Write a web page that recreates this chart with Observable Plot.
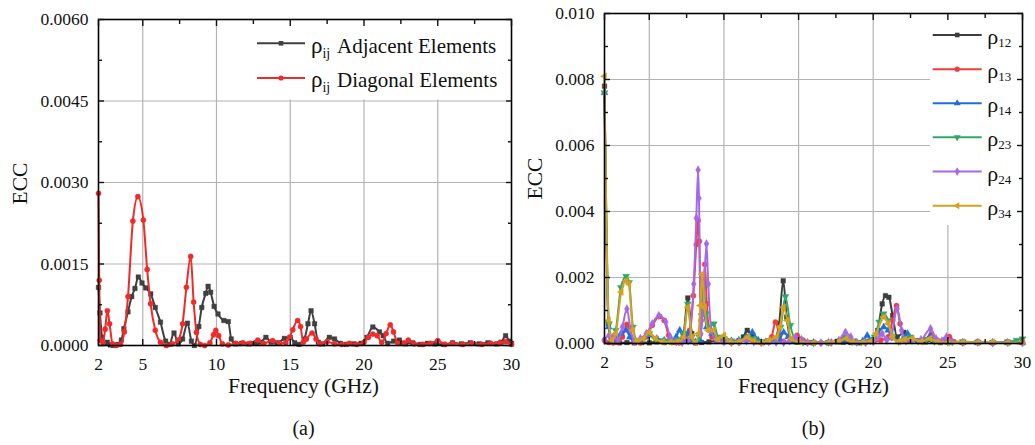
<!DOCTYPE html>
<html><head><meta charset="utf-8">
<script src="https://cdn.jsdelivr.net/npm/d3@7"></script>
<script src="https://cdn.jsdelivr.net/npm/@observablehq/plot@0.6"></script>
<style>
body{margin:0;background:#fff;}
#wrap{position:relative;width:1035px;height:445px;overflow:hidden;background:#fff;}
#pa,#pb{position:absolute;top:0;}
#pa{left:0;} #pb{left:517px;}
svg{background:transparent !important;}
svg text, svg tspan{font-family:'Liberation Serif','Times New Roman',serif !important;}
</style></head>
<body><div id="wrap"><div id="pa"></div><div id="pb"></div></div>
<script>
// ---------- Panel (a) data ----------
const freqAdj = [2.0,2.1,2.25,2.45,2.6,2.8,3.0,3.3,3.55,3.72,4.0,4.25,4.47,4.7,4.95,5.2,5.54,5.85,6.2,6.55,6.8,7.12,7.4,7.7,8.03,8.3,8.5,8.8,9.0,9.27,9.43,9.6,9.84,10.1,10.5,10.8,11.0,11.3,11.7,12.2,12.7,13.0,13.35,13.7,14.1,14.6,15.0,15.3,15.6,15.96,16.2,16.41,16.65,16.9,17.2,17.65,18.0,18.4,18.8,19.3,19.8,20.2,20.6,21.05,21.3,21.6,22.0,22.4,22.8,23.3,23.8,24.3,24.8,25.4,26.0,26.6,27.2,27.8,28.4,29.0,29.3,29.6,29.85,30.0];
const eccAdj = [0.00107,0.0006,0.00015,0.00004,0.00006,0.00001,0.0,0.00002,0.0001,0.00031,0.00062,0.0009,0.00105,0.00126,0.00115,0.00106,0.00095,0.0007,0.00043,0.00008,0.00002,0.00023,0.00003,0.00012,0.00041,0.00008,0.0,0.00035,0.0007,0.00096,0.00109,0.00098,0.00072,0.00058,0.00046,0.00044,0.00012,0.00003,0.00004,0.00003,0.00005,0.00006,0.00015,0.00006,0.00005,0.00013,0.00015,0.00005,0.00002,0.00012,0.0004,0.00064,0.0004,0.00006,0.00003,0.00015,0.00012,0.00004,0.00002,0.00003,0.00004,0.00015,0.00034,0.00025,0.00018,0.00004,0.00008,0.0001,0.00003,0.00005,0.00002,0.00004,0.00003,0.00002,0.00005,0.00003,0.00005,0.00003,0.00005,0.00003,0.00006,0.00018,0.00008,0.00004];
const freqDiag = [2.0,2.05,2.12,2.3,2.45,2.6,2.75,2.95,3.2,3.5,3.75,4.0,4.33,4.67,5.04,5.3,5.53,5.85,6.2,6.6,7.0,7.4,7.7,7.96,8.25,8.45,8.64,8.9,9.2,9.55,9.8,9.95,10.15,10.4,10.8,11.3,11.8,12.3,12.8,13.2,13.8,14.3,14.7,14.95,15.17,15.5,15.7,15.88,16.1,16.48,16.75,17.0,17.5,18.0,18.5,19.0,19.5,20.0,20.3,20.6,20.9,21.2,21.5,21.78,22.0,22.3,22.7,23.0,23.4,24.0,24.5,25.0,25.5,26.0,26.7,27.3,28.0,28.6,29.2,29.6,30.0];
const eccDiag = [0.0028,0.0012,0.0001,0.00005,0.0003,0.00064,0.0004,0.00003,0.0,0.00002,0.00025,0.0009,0.00229,0.00274,0.00231,0.0014,0.00077,0.00028,0.00006,0.0,0.00003,0.0001,0.0004,0.00107,0.00164,0.0008,0.00024,0.00002,0.0,0.00005,0.0002,0.00028,0.00018,0.00003,0.00001,0.00004,0.00005,0.00004,0.0001,0.00004,0.00009,0.00004,0.00005,0.00015,0.00029,0.00046,0.00035,0.00006,0.00012,0.00023,0.00012,0.00003,0.00007,0.00003,0.00002,0.00004,0.00002,0.00006,0.00015,0.00021,0.00018,0.00006,0.00022,0.00038,0.00025,0.00004,0.00005,0.0001,0.00003,0.00002,0.00004,0.00009,0.00002,0.00004,0.00002,0.00004,0.00002,0.00004,0.00005,0.00007,0.00002];

// ---------- Panel (b) data ----------
const f12 = [2.0,2.27,2.45,2.7,3.0,3.5,4.0,4.5,5.0,5.5,6.0,6.5,7.0,7.3,7.58,7.85,8.1,8.5,9.0,9.5,10.0,10.5,11.0,11.3,11.56,11.85,12.2,12.6,13.0,13.4,13.7,13.97,14.2,14.5,14.9,15.5,16.0,17.0,18.0,18.5,19.0,19.5,20.0,20.3,20.6,20.82,21.05,21.3,21.6,22.05,22.4,23.0,23.5,24.0,24.5,25.0,26.0,27.0,28.0,29.0,30.0];
const e12 = [0.0078,0.0006,0.0001,0.00004,0.00002,0.00003,0.00002,0.00003,0.00002,0.00005,0.00003,0.00004,0.00005,0.0003,0.00138,0.0003,0.00002,0.00003,0.00005,0.00008,0.00006,0.00004,0.00008,0.0002,0.0004,0.00025,0.00005,0.00003,0.00005,0.00012,0.0006,0.0019,0.0008,0.0001,0.00004,0.00003,0.00002,0.00002,0.00004,0.00003,0.00002,0.00005,0.0001,0.0004,0.0012,0.00145,0.0014,0.00085,0.0002,0.00034,0.0001,0.00008,0.00005,0.00008,0.00003,0.00005,0.00003,0.00004,0.00003,0.00004,0.00003];
const f13 = [2.0,2.3,2.6,2.9,3.2,3.5,3.75,4.0,4.4,4.8,5.2,5.7,6.0,6.3,6.7,7.0,7.4,7.7,7.95,8.15,8.27,8.35,8.47,8.6,8.72,8.85,9.0,9.2,9.6,10.0,10.5,11.0,11.5,12.0,12.5,13.0,13.2,13.45,13.7,14.0,14.5,14.9,15.3,15.8,16.5,17.0,17.5,18.0,18.4,18.8,19.5,20.0,20.5,21.0,21.3,21.56,21.8,22.1,22.5,23.0,23.5,23.9,24.3,24.8,25.1,25.4,26.0,27.0,28.0,29.0,30.0];
const e13 = [0.0001,0.00003,0.00002,0.00005,0.0002,0.00058,0.0002,0.00003,0.00002,0.0002,0.00055,0.00082,0.0007,0.00025,0.00004,0.00002,0.00008,0.0004,0.00145,0.003,0.00373,0.0031,0.0007,0.0012,0.0024,0.0012,0.0004,0.0002,0.00008,0.00005,0.00003,0.00005,0.0001,0.00008,0.00003,0.00008,0.0002,0.00065,0.0003,0.00005,0.00008,0.00025,0.0001,0.00003,0.00002,0.00003,0.00005,0.00015,0.00012,0.00003,0.00005,0.00005,0.0001,0.0002,0.0007,0.00115,0.0006,0.0001,0.00012,0.00008,0.00012,0.0003,0.0001,0.00012,0.00021,0.00006,0.00003,0.00004,0.00002,0.00004,0.00003];
const f14 = [2.0,2.27,2.5,2.8,3.1,3.45,3.7,4.0,4.5,5.0,5.5,6.0,6.5,6.8,7.04,7.3,7.58,7.85,8.1,8.4,8.6,8.85,9.2,9.6,10.0,10.5,11.0,11.5,11.9,12.3,12.8,13.3,13.7,14.0,14.3,14.7,15.2,16.0,17.0,17.8,18.3,18.8,19.3,19.6,19.9,20.3,20.7,21.0,21.3,21.7,22.3,22.7,23.2,23.8,24.2,25.0,26.0,27.0,28.0,29.0,30.0];
const e14 = [0.0076,0.0005,0.0001,0.00015,0.0003,0.0004,0.0002,0.00008,0.0001,0.00025,0.00015,0.0001,0.00008,0.0002,0.0004,0.00012,0.0003,0.00008,0.00005,0.0001,0.001,0.0005,0.0003,0.0001,0.0002,0.00008,0.0001,0.0002,0.00034,0.0001,0.00005,0.00008,0.0001,0.00034,0.0002,0.00006,0.00005,0.00003,0.00003,0.00005,0.0001,0.00004,0.00008,0.00024,0.00008,0.0003,0.0005,0.0004,0.0002,0.00005,0.0003,0.0001,0.00005,0.00022,0.00005,0.00004,0.00003,0.00002,0.00003,0.00002,0.00003];
const f23 = [2.0,2.3,2.5,2.75,3.1,3.45,3.65,3.9,4.2,4.6,5.0,5.4,5.9,6.4,6.9,7.3,7.58,7.85,8.1,8.35,8.5,8.62,8.8,9.0,9.32,9.6,10.0,10.5,11.0,11.6,12.0,12.5,13.0,13.5,13.8,14.12,14.45,14.8,15.3,16.0,17.0,17.7,18.2,18.6,19.2,19.8,20.1,20.4,20.7,21.0,21.3,21.7,22.1,22.5,23.0,23.6,24.1,25.0,26.0,27.0,28.0,29.0,29.6,30.0];
const e23 = [0.0076,0.0006,0.0002,0.0004,0.0017,0.00204,0.00185,0.0005,0.0001,0.00015,0.0003,0.00015,0.00008,0.0001,0.00012,0.0003,0.0012,0.0002,0.00005,0.0002,0.00085,0.0017,0.0009,0.0005,0.0006,0.0002,0.00015,0.00008,0.00005,0.0002,0.00015,0.00005,0.00008,0.00015,0.0005,0.00142,0.00055,0.0001,0.00004,0.00002,0.00003,0.00008,0.0002,0.00006,0.00004,0.00008,0.0002,0.00065,0.0009,0.0007,0.0002,0.00006,0.00015,0.0002,0.00008,0.00012,0.00006,0.00004,0.00006,0.00004,0.00003,0.00005,0.0001,0.00014];
const f24 = [2.0,2.3,2.6,2.9,3.2,3.5,3.75,4.0,4.4,4.8,5.2,5.64,6.1,6.4,6.8,7.2,7.6,7.98,8.15,8.27,8.33,8.45,8.62,8.83,8.95,9.15,9.5,10.0,10.5,11.0,11.5,12.0,12.5,13.0,13.5,14.0,14.4,14.8,15.2,15.6,16.5,17.2,17.7,18.14,18.5,18.9,19.5,20.0,20.35,20.6,20.9,21.2,21.6,21.9,22.2,22.6,23.2,23.84,24.2,24.6,24.9,25.3,26.0,27.0,28.0,29.0,30.0];
const e24 = [0.0001,0.00025,0.0002,0.0001,0.0005,0.00105,0.0004,0.00008,0.00015,0.0003,0.0006,0.00085,0.00065,0.0002,0.00005,0.00003,0.00008,0.0018,0.0038,0.00526,0.0044,0.0003,0.0012,0.00302,0.0018,0.0004,0.0001,0.00005,0.00003,0.00005,0.00008,0.00005,0.00003,0.00005,0.00004,0.00003,0.00008,0.00019,0.00012,0.00003,0.00002,0.00003,0.0001,0.00034,0.0002,0.00004,0.00003,0.00005,0.0002,0.0003,0.0001,0.0002,0.00105,0.0004,0.00008,0.0001,0.00012,0.00045,0.00015,0.00008,0.0002,0.00005,0.00003,0.00004,0.00002,0.00003,0.00002];
const f34 = [2.0,2.27,2.5,2.75,3.12,3.45,3.63,3.9,4.2,4.6,5.0,5.4,5.9,6.4,6.9,7.3,7.58,7.85,8.1,8.3,8.42,8.54,8.7,8.95,9.3,9.6,10.0,10.4,11.0,11.6,12.0,12.5,13.0,13.5,13.75,14.0,14.25,14.5,15.0,16.0,17.0,17.7,18.2,18.6,19.3,19.9,20.2,20.7,21.0,21.3,21.7,22.1,22.6,23.2,23.8,24.3,25.0,26.0,27.0,28.0,29.0,30.0];
const e34 = [0.0081,0.0007,0.0001,0.0003,0.00156,0.0019,0.0018,0.0004,0.00008,0.00015,0.00034,0.00015,0.00005,0.00004,0.00005,0.0002,0.0011,0.0002,0.00003,0.0003,0.00115,0.0021,0.0011,0.0004,0.0004,0.00012,0.00024,0.00005,0.00005,0.0002,0.00008,0.00003,0.0001,0.0002,0.0005,0.0011,0.0007,0.00015,0.00005,0.00002,0.00003,0.00006,0.00015,0.00005,0.00004,0.00008,0.0003,0.0008,0.0006,0.0002,0.00005,0.00012,0.00015,0.00005,0.00015,0.00005,0.00003,0.00004,0.00003,0.00004,0.00002,0.00004];

// ---------- ticks ----------
const xMajor = [2,5,10,15,20,25,30];
const xMinor = [7.5,12.5,17.5,22.5,27.5];
const xGrid = [5,10,15,20,25];
const yMajorA = [0,0.0015,0.003,0.0045,0.006];
const yMinorA = [0.00075,0.00225,0.00375,0.00525];
const yGridA = [0.0015,0.003,0.0045];
const yMajorB = [0,0.002,0.004,0.006,0.008,0.01];
const yMinorB = [0.001,0.003,0.005,0.007,0.009];
const yGridB = [0.002,0.004,0.006,0.008];

const FONT = "'Liberation Serif','Times New Roman',serif";

function panel(cfg) {
  const marks = [
    Plot.gridX(xGrid, {stroke:"#b3b3b3", strokeOpacity:1, strokeWidth:1.2}),
    Plot.gridY(cfg.yGrid, {stroke:"#b3b3b3", strokeOpacity:1, strokeWidth:1.2})
  ];
  cfg.series.forEach(s => {
    const rows = s.f.map((f,i) => ({f, v: s.v[i]}));
    marks.push(Plot.line(rows, {x:"f", y:"v", curve:"monotone-x", stroke:s.color, strokeWidth:2}));
    marks.push(Plot.dot(rows, {x:"f", y:"v", symbol:s.symbol, r:2.6, fill:s.color, stroke:s.color, strokeWidth:0.4, rotate:s.rotate||0}));
  });
  marks.push(Plot.frame({stroke:"#000", strokeWidth:1.6}));
  const noTxt = {tickFormat:()=>"", label:null, strokeWidth:1.4};
  for (const anchor of ["bottom","top"]) {
    marks.push(Plot.axisX(xMajor, {anchor, tickSize:-6, ...noTxt}));
    marks.push(Plot.axisX(xMinor, {anchor, tickSize:-4, ...noTxt}));
  }
  for (const anchor of ["left","right"]) {
    marks.push(Plot.axisY(cfg.yMajor, {anchor, tickSize:-6, ...noTxt}));
    marks.push(Plot.axisY(cfg.yMinor, {anchor, tickSize:-4, ...noTxt}));
  }
  marks.push(Plot.axisX(xMajor, {anchor:"bottom", label:null, tickSize:0, tickPadding:12.5, tickFormat:d=>String(d), fontSize:17.5}));
  marks.push(Plot.axisY(cfg.yMajor, {anchor:"left", label:null, tickSize:0, tickPadding:10, tickFormat:cfg.fmt, fontSize:17.5}));
  return Plot.plot({
    width: cfg.width, height: 445,
    marginLeft: cfg.ml, marginRight: cfg.mr, marginTop: cfg.mt, marginBottom: cfg.mb,
    style: {fontFamily: FONT, fontSize: "17.5px", color: "#111", background: "transparent", overflow: "visible"},
    x: {domain:[2,30], axis:null, label:null},
    y: {domain:cfg.ydom, axis:null, label:null},
    marks
  });
}

const A = panel({
  width:517, ml:98, mr:6, mt:19, mb:100, ydom:[0,0.006],
  yGrid:yGridA, yMajor:yMajorA, yMinor:yMinorA, fmt:d3.format(".4f"),
  series:[
    {f:freqAdj, v:eccAdj, color:"#404040", symbol:"square"},
    {f:freqDiag, v:eccDiag, color:"#f02a2a", symbol:"circle"}
  ]
});
const B = panel({
  width:518, ml:87, mr:13, mt:13, mb:102, ydom:[0,0.01],
  yGrid:yGridB, yMajor:yMajorB, yMinor:yMinorB, fmt:d3.format(".3f"),
  series:[
    {f:f12, v:e12, color:"#3d3d3d", symbol:"square"},
    {f:f13, v:e13, color:"#f03c3c", symbol:"circle"},
    {f:f14, v:e14, color:"#1f6ee0", symbol:"triangle"},
    {f:f23, v:e23, color:"#2ea86a", symbol:"triangle", rotate:180},
    {f:f24, v:e24, color:"#a66ae8", symbol:"diamond"},
    {f:f34, v:e34, color:"#d6a21e", symbol:"triangle", rotate:-90}
  ]
});
document.getElementById("pa").appendChild(A);
document.getElementById("pb").appendChild(B);

function titles(svg, cx, eccX, eccY, cap) {
  svg.append("text").attr("x", cx).attr("y", 392.5).attr("text-anchor","middle")
    .attr("font-size", 21.5).attr("fill","#111").text("Frequency (GHz)");
  svg.append("text").attr("transform", `translate(${eccX},${eccY}) rotate(-90)`).attr("text-anchor","middle")
    .attr("font-size", 21.5).attr("fill","#111").text("ECC");
  svg.append("text").attr("x", cx).attr("y", 435).attr("text-anchor","middle")
    .attr("font-size", 20).attr("fill","#111").text(cap);
}

function symbolPath(name) {
  const m = {square:d3.symbolSquare, circle:d3.symbolCircle, triangle:d3.symbolTriangle, diamond:d3.symbolDiamond};
  return d3.symbol(m[name], Math.PI*2.6*2.6)();
}

// Panel (a) legend
{
  const svg = d3.select(A);
  titles(svg, 303.5, 26.5, 183.5, "(a)");
  svg.insert("rect", "g[aria-label='line']").attr("x",246).attr("y",20.5).attr("width",263).attr("height",79).attr("fill","#fff");
  const items = [
    {label:"Adjacent Elements", color:"#404040", symbol:"square", y:43.3},
    {label:"Diagonal Elements", color:"#f02a2a", symbol:"circle", y:78}
  ];
  const g = svg.append("g").attr("text-anchor","start");
  items.forEach(it => {
    g.append("line").attr("x1",257).attr("x2",305).attr("y1",it.y).attr("y2",it.y).attr("stroke",it.color).attr("stroke-width",2);
    g.append("path").attr("d", symbolPath(it.symbol)).attr("transform",`translate(281,${it.y})`).attr("fill",it.color);
    const t = g.append("text").attr("x",311).attr("y",it.y+9.2).attr("text-anchor","start").attr("fill","#111").attr("font-size",23);
    t.append("tspan").text("ρ");
    t.append("tspan").attr("font-size",14).attr("dy",5).text("ij");
    t.append("tspan").attr("x",337).attr("dy",-5).attr("font-size",21).text(it.label);
  });
}
// Panel (b) legend
{
  const svg = d3.select(B);
  titles(svg, 813.5-517, 541.5-517, 178.5, "(b)");
  svg.insert("rect", "g[aria-label='line']").attr("x",413).attr("y",14).attr("width",91).attr("height",211).attr("fill","#fff");
  const items = [
    {sub:"12", color:"#3d3d3d", symbol:"square", rot:0},
    {sub:"13", color:"#f03c3c", symbol:"circle", rot:0},
    {sub:"14", color:"#1f6ee0", symbol:"triangle", rot:0},
    {sub:"23", color:"#2ea86a", symbol:"triangle", rot:180},
    {sub:"24", color:"#a66ae8", symbol:"diamond", rot:0},
    {sub:"34", color:"#d6a21e", symbol:"triangle", rot:-90}
  ];
  const ys = [35,69.2,103.3,137.3,171.6,205.7];
  const g = svg.append("g").attr("text-anchor","start");
  items.forEach((it,i) => {
    const y = ys[i];
    g.append("line").attr("x1",415.7).attr("x2",464.7).attr("y1",y).attr("y2",y).attr("stroke",it.color).attr("stroke-width",2);
    g.append("path").attr("d", symbolPath(it.symbol)).attr("transform",`translate(440.2,${y}) rotate(${it.rot})`).attr("fill",it.color);
    const t = g.append("text").attr("x",470.3).attr("y",y+9).attr("text-anchor","start").attr("fill","#111").attr("font-size",22);
    t.append("tspan").text("ρ");
    t.append("tspan").attr("font-size",13).attr("dy",3).text(it.sub);
  });
}
</script>
</body></html>
